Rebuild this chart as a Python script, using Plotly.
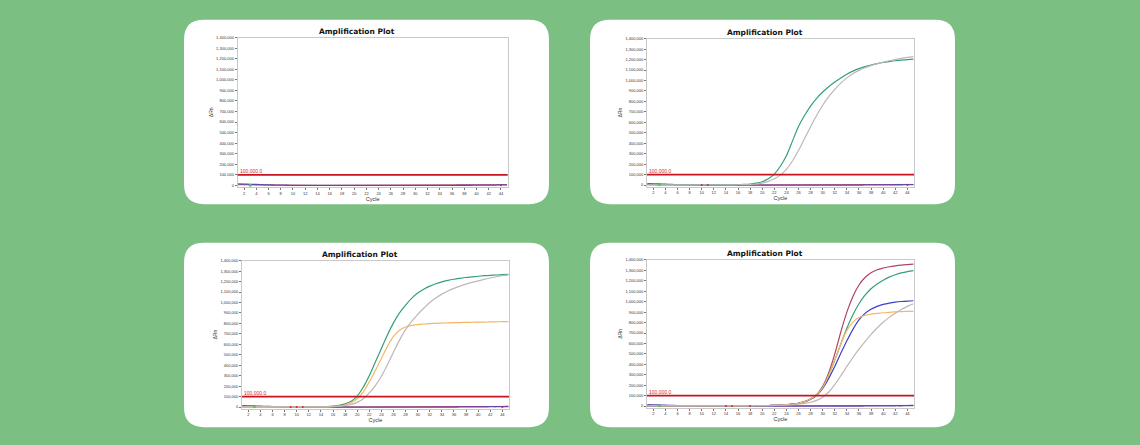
import plotly.graph_objects as go

# ---------------- data ----------------
cycles = list(range(1, 46))
x_tick_labels = list(range(2, 45, 2))
threshold = 100000
threshold_label = "100,000.0"
plot_title = "Amplification Plot"

# amplification curves, values in thousands of ΔRn, cycle 1..45
p2_green_k = [3, 3, 2, 2, 2, 2, 1, 1, 1, 1, 1, 1, 2, 2, 2, 3, 6, 10, 18, 32, 60, 105, 180, 280, 420,
              560, 665, 755, 830, 890, 940, 985, 1025, 1060, 1090, 1113, 1132, 1148, 1161, 1172,
              1181, 1189, 1195, 1200, 1204]
p2_grey_k = [2, 2, 2, 1, 1, 1, 1, 1, 1, 1, 1, 1, 1, 2, 2, 3, 4, 5, 10, 18, 35, 60, 95, 150, 230,
             330, 445, 557, 665, 763, 845, 915, 975, 1025, 1065, 1097, 1122, 1142, 1160, 1175, 1189,
             1201, 1212, 1221, 1228]

p3_green_k = [2, 2, 2, 2, 2, 2, 2, 2, 2, 2, 2, 2, 2, 2, 4, 8, 15, 30, 55, 105, 190, 300, 430, 560,
              690, 805, 900, 975, 1040, 1090, 1127, 1156, 1179, 1197, 1211, 1222, 1231, 1239, 1245,
              1251, 1256, 1260, 1263, 1266, 1268]
p3_yellow_k = [2, 2, 2, 2, 2, 2, 2, 2, 2, 2, 2, 2, 2, 2, 2, 5, 10, 22, 42, 80, 145, 240, 350, 465,
               580, 675, 735, 765, 781, 789, 794, 798, 801, 803, 805, 807, 808, 810, 811, 812, 813,
               814, 815, 816, 817]
p3_grey_k = [2, 2, 2, 2, 2, 2, 2, 2, 2, 2, 2, 2, 2, 2, 2, 4, 8, 15, 25, 45, 80, 135, 205, 295, 405,
             525, 640, 740, 820, 885, 945, 1000, 1043, 1080, 1110, 1135, 1156, 1175, 1192, 1207,
             1221, 1234, 1246, 1256, 1264]

p4_red_k = [2, 2, 2, 1, 1, 1, 1, 1, 1, 1, 1, 1, 1, 2, 2, 2, 2, 3, 3, 4, 5, 7, 9, 13, 18, 27, 42,
            68, 110, 190, 320, 500, 710, 900, 1050, 1160, 1232, 1278, 1306, 1323, 1335, 1344,
            1351, 1356, 1360]
p4_green_k = [2, 2, 2, 1, 1, 1, 1, 1, 1, 1, 1, 1, 1, 2, 2, 2, 2, 3, 3, 4, 5, 7, 9, 13, 18, 27, 42,
              67, 106, 175, 295, 440, 595, 745, 875, 980, 1062, 1124, 1170, 1206, 1236, 1258,
              1276, 1289, 1298]
p4_blue_k = [2, 2, 2, 1, 1, 1, 1, 1, 1, 1, 1, 1, 1, 2, 2, 2, 2, 3, 3, 4, 5, 7, 9, 13, 18, 27, 41,
             65, 104, 170, 265, 380, 505, 625, 735, 825, 888, 928, 955, 974, 987, 996, 1002,
             1006, 1009]
p4_yellow_k = [2, 2, 2, 1, 1, 1, 1, 1, 1, 1, 1, 1, 1, 2, 2, 2, 2, 3, 3, 4, 5, 7, 9, 13, 18, 27, 42,
               68, 108, 178, 295, 440, 595, 725, 805, 848, 869, 881, 888, 894, 898, 902, 905,
               907, 908]
p4_grey_k = [2, 2, 2, 1, 1, 1, 1, 1, 1, 1, 1, 1, 1, 2, 2, 2, 2, 2, 3, 3, 4, 5, 7, 9, 13, 19, 26,
             36, 54, 85, 135, 205, 290, 380, 465, 545, 618, 687, 748, 803, 850, 890, 925, 955, 980]

# flat baseline (negative control) traces, thousands
baseline_purple_k = [14, 12, 10, 8, 6, 4, 3, 2, 1, 0, 0, -1, -1, -1, -1, -1, -1, -1, -1, -1, -1,
                     -1, -1, -1, -1, -1, -1, -1, -1, -1, -1, -1, 0, 0, 0, 0, 1, 1, 1, 2, 2, 3, 3,
                     4, 5]
baseline_red_k = [6, 5, 4, 3, 2, 1, 1, 0, 0, 0, 0, 0, 0, 0, 0, 0, 0, 0, 0, 0, 0, 0, 0, 0, 0, 0,
                  0, 0, 0, 0, 0, 0, 0, 0, 0, 0, 0, 0, 0, 0, 1, 1, 2, 3, 6]
green_marker_cycle = 3
red_marker_cycles = [[44], [10, 11, 44], [9, 10, 11, 44], [14, 15, 18]]

panel_series = [
    [],
    [("green", p2_green_k), ("grey", p2_grey_k)],
    [("green", p3_green_k), ("yellow", p3_yellow_k), ("grey", p3_grey_k)],
    [("red", p4_red_k), ("green", p4_green_k), ("blue", p4_blue_k),
     ("yellow", p4_yellow_k), ("grey", p4_grey_k)],
]

# ---------------- styles / layout ----------------
W, H = 1140, 445
BG = "rgb(124,191,131)"
colors = {
    "green": "rgb(52,160,115)",
    "grey": "rgb(192,182,182)",
    "yellow": "rgb(244,184,100)",
    "red": "rgb(178,68,100)",
    "blue": "rgb(60,62,200)",
}

# panel boxes (pixels): x0, x1, y0, y1
panels_px = [(184, 549, 17, 203), (590, 955, 17, 203), (184, 549, 242, 428), (590, 955, 242, 428)]
# plot areas (pixels): left, right, top, zero-line
plots_px = [(237.6, 507.7, 35, 184), (647, 914, 36, 183.7), (242, 509, 260, 407.7),
            (647, 914, 259.3, 406.7)]

XR = [0.95, 45.1]
YMIN, YMAX = -15000, 1400000


def px(v):
    return v / W


def py(v):
    return 1 - v / H


def rounded_path(x0, x1, y0, y1, r=20):
    rx, ry = r / W, r / H
    X0, X1, Y0, Y1 = px(x0), px(x1), py(y1), py(y0)
    return (f"M {X0+rx},{Y1} L {X1-rx},{Y1} Q {X1},{Y1} {X1},{Y1-ry} "
            f"L {X1},{Y0+ry} Q {X1},{Y0} {X1-rx},{Y0} L {X0+rx},{Y0} "
            f"Q {X0},{Y0} {X0},{Y0+ry} L {X0},{Y1-ry} Q {X0},{Y1} {X0+rx},{Y1} Z")


fig = go.Figure()
shapes = []
annotations = []
layout_axes = {}

for p in panels_px:
    shapes.append(dict(type="path", xref="paper", yref="paper", path=rounded_path(*p),
                       fillcolor="white", line=dict(width=0), layer="below"))

for i in range(4):
    n = "" if i == 0 else str(i + 1)
    xa, ya = "x" + n, "y" + n
    left, right, top, zero = plots_px[i]
    bottom = zero + (zero - top) * (-YMIN) / YMAX
    layout_axes["xaxis" + n] = dict(
        domain=[px(left), px(right)], anchor=ya, range=XR, tickvals=x_tick_labels,
        ticktext=[str(t) for t in x_tick_labels], ticks="outside", ticklen=2,
        tickcolor="#777", tickwidth=0.6, tickfont=dict(size=4, color="#333", family="Liberation Sans"),
        showgrid=False, zeroline=False, showline=True, linecolor="#c9c9c9", linewidth=0.8,
        mirror=True,
        title=dict(text="Cycle", font=dict(size=5.5, color="#333", family="Liberation Sans"),
                   standoff=1))
    layout_axes["yaxis" + n] = dict(
        domain=[py(bottom), py(top)], anchor=xa, range=[YMIN, YMAX], tick0=0, dtick=100000,
        tickformat=",d", ticks="outside", ticklen=2, tickcolor="#777", tickwidth=0.6,
        tickfont=dict(size=4, color="#333", family="Liberation Sans"),
        showgrid=False, zeroline=False, showline=True, linecolor="#c9c9c9", linewidth=0.8,
        mirror=True,
        title=dict(text="ΔRn", font=dict(size=5, color="#333", family="Liberation Sans"),
                   standoff=2))

    # baseline traces
    fig.add_trace(go.Scatter(x=cycles, y=[v * 1000 for v in baseline_red_k], xaxis=xa, yaxis=ya,
                             mode="lines", line=dict(color="rgb(200,60,80)", width=1),
                             hoverinfo="skip"))
    fig.add_trace(go.Scatter(x=cycles, y=[v * 1000 for v in baseline_purple_k], xaxis=xa, yaxis=ya,
                             mode="lines", line=dict(color="rgb(100,70,170)", width=1.3),
                             line_shape="spline", hoverinfo="skip"))

    for cname, vals in panel_series[i]:
        fig.add_trace(go.Scatter(x=cycles, y=[v * 1000 for v in vals], xaxis=xa, yaxis=ya,
                                 mode="lines", line=dict(color=colors[cname], width=1.2),
                                 line_shape="spline", hoverinfo="skip"))

    # small well markers near the baseline
    fig.add_trace(go.Scatter(x=[green_marker_cycle], y=[2000], xaxis=xa, yaxis=ya, mode="markers",
                             marker=dict(color="rgb(80,200,90)", size=3), hoverinfo="skip"))
    fig.add_trace(go.Scatter(x=red_marker_cycles[i], y=[0] * len(red_marker_cycles[i]),
                             xaxis=xa, yaxis=ya, mode="markers",
                             marker=dict(color="rgb(210,40,50)", size=2), hoverinfo="skip"))

    # threshold line + label
    shapes.append(dict(type="line", xref=xa + " domain", yref=ya, x0=0, x1=1, y0=threshold,
                       y1=threshold, line=dict(color="rgb(200,20,30)", width=1.8)))
    annotations.append(dict(text=threshold_label, xref=xa, yref=ya, x=XR[0], y=threshold,
                            xanchor="left", yanchor="bottom", showarrow=False, yshift=-1,
                            xshift=0, font=dict(size=5, color="rgb(220,30,30)",
                                                family="Liberation Sans")))
    # title
    annotations.append(dict(text=f"<b>{plot_title}</b>", xref=xa + " domain", yref=ya + " domain",
                            x=0.443, y=1, xanchor="center", yanchor="bottom", showarrow=False,
                            yshift=0, font=dict(size=7.5, color="#111", family="DejaVu Sans")))

fig.update_layout(
    width=W, height=H, margin=dict(l=0, r=0, t=0, b=0), paper_bgcolor=BG, plot_bgcolor="white",
    showlegend=False, shapes=shapes, annotations=annotations, **layout_axes)

fig.write_html("out.html", config={"displayModeBar": False},
               post_script=("document.body.style.margin='0px';"
                            "document.body.style.padding='0px';"
                            "document.body.style.overflow='hidden';"
                            f"document.body.style.background='{BG}';"))
